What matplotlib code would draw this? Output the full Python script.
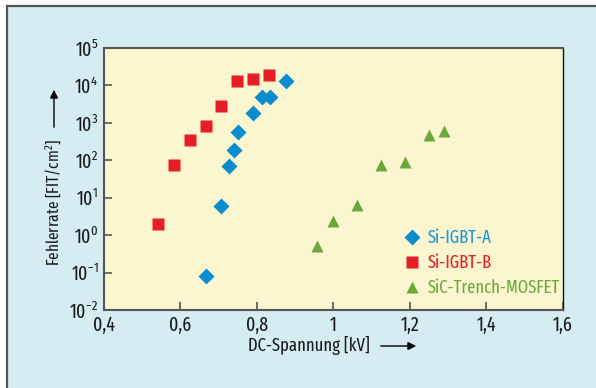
import math
import matplotlib
matplotlib.use("Agg")
import matplotlib.pyplot as plt
from matplotlib.patches import Rectangle, FancyArrowPatch
from matplotlib.ticker import FixedLocator, FuncFormatter, NullLocator

FONT = 'Fira Sans Extra Condensed'
plt.rcParams['font.family'] = [FONT, 'Fira Sans Condensed', 'DejaVu Sans']
plt.rcParams['mathtext.fontset'] = 'custom'
plt.rcParams['mathtext.rm'] = FONT
plt.rcParams['mathtext.it'] = FONT
plt.rcParams['mathtext.bf'] = FONT
plt.rcParams['mathtext.default'] = 'regular'

# Data
igbt_a_x = [0.667, 0.706, 0.727, 0.740, 0.750, 0.790, 0.813, 0.834, 0.876]
igbt_a_y = [0.08, 6, 70, 190, 580, 1800, 4900, 4900, 13000]
igbt_b_x = [0.541, 0.583, 0.625, 0.667, 0.706, 0.748, 0.790, 0.831]
igbt_b_y = [2.0, 74, 350, 830, 2800, 13000, 15000, 19000]
sic_x = [0.957, 0.999, 1.061, 1.124, 1.187, 1.250, 1.289]
sic_y = [0.51, 2.4, 6.5, 74, 90, 480, 600]
labels = ['Si-IGBT-A', 'Si-IGBT-B', 'SiC-Trench-MOSFET']
x_ticks = [0.4, 0.6, 0.8, 1.0, 1.2, 1.4, 1.6]
x_ticklabels = ['0,4', '0,6', '0,8', '1', '1,2', '1,4', '1,6']
y_exps = [-2, -1, 0, 1, 2, 3, 4, 5]

W, H = 596, 388
fig = plt.figure(figsize=(W / 100, H / 100), dpi=100)
fig.patch.set_facecolor('white')

# outer panel
fig.patches.append(Rectangle((7 / W, -0.2), 1.3, 1.2 - 6 / H, transform=fig.transFigure,
                             facecolor='#d6ecf3', edgecolor='#555555', lw=1.6, zorder=-5))

ax = fig.add_axes([104 / W, 1 - 310 / H, 459 / W, 262 / H])
ax.set_zorder(2)
ax.set_facecolor('#fcf6d0')
ax.set_yscale('log')
ax.set_xlim(0.4, 1.6)
ax.set_ylim(1e-2, 1e5)

blue, red, green = '#0a8ccd', '#e61e28', '#6aa83a'
ax.plot(igbt_a_x, igbt_a_y, 'D', color=blue, ms=8, mec='none', label=labels[0])
ax.plot(igbt_b_x, igbt_b_y, 's', color=red, ms=9, mec='none', label=labels[1])
ax.plot(sic_x, sic_y, '^', color=green, ms=8.5, mec='none', label=labels[2])

ax.xaxis.set_major_locator(FixedLocator(x_ticks))
ax.set_xticklabels(x_ticklabels)
ax.yaxis.set_major_locator(FixedLocator([10.0 ** e for e in y_exps]))
ax.yaxis.set_minor_locator(NullLocator())
ax.yaxis.set_major_formatter(FuncFormatter(lambda v, p: r'$10^{%d}$' % round(math.log10(v))))
ax.tick_params(direction='in', length=6, width=1.2, color='#555555', labelsize=14,
               labelcolor='#1a1a1a')
ax.tick_params(axis='x', pad=4)
ax.tick_params(axis='y', pad=4)

for s in ['left', 'bottom', 'top']:
    ax.spines[s].set_color('#555555')
    ax.spines[s].set_linewidth(1.5)
ax.spines['right'].set_color('#111111')
ax.spines['right'].set_linewidth(1.0)

leg = ax.legend(loc='upper left', bbox_to_anchor=(403 / W, 1 - 229 / H),
                bbox_transform=fig.transFigure, frameon=False, fontsize=13,
                handletextpad=0.35, handlelength=1.0, labelspacing=0.4, borderpad=0,
                borderaxespad=0, labelcolor='linecolor')
leg.get_texts()[0].set_color('#1a96d4')

# axis labels with arrows
fig.text(309 / W, 1 - 345 / H, 'DC-Spannung [kV]', ha='center', va='center', fontsize=13,
         color='#1a1a1a')
fig.add_artist(FancyArrowPatch((378 / W, 1 - 346 / H), (419 / W, 1 - 346 / H),
               transform=fig.transFigure, arrowstyle='-|>', mutation_scale=12, lw=1.0, color='black'))
fig.text(54 / W, 1 - 203 / H, 'Fehlerrate [FIT/cm$^2$]', ha='center', va='center', rotation=90,
         fontsize=12, color='#1a1a1a')
fig.add_artist(FancyArrowPatch((54 / W, 1 - 130 / H), (54 / W, 1 - 87 / H),
               transform=fig.transFigure, arrowstyle='-|>', mutation_scale=12, lw=1.0, color='black'))

fig.savefig('out.png', dpi=100)
